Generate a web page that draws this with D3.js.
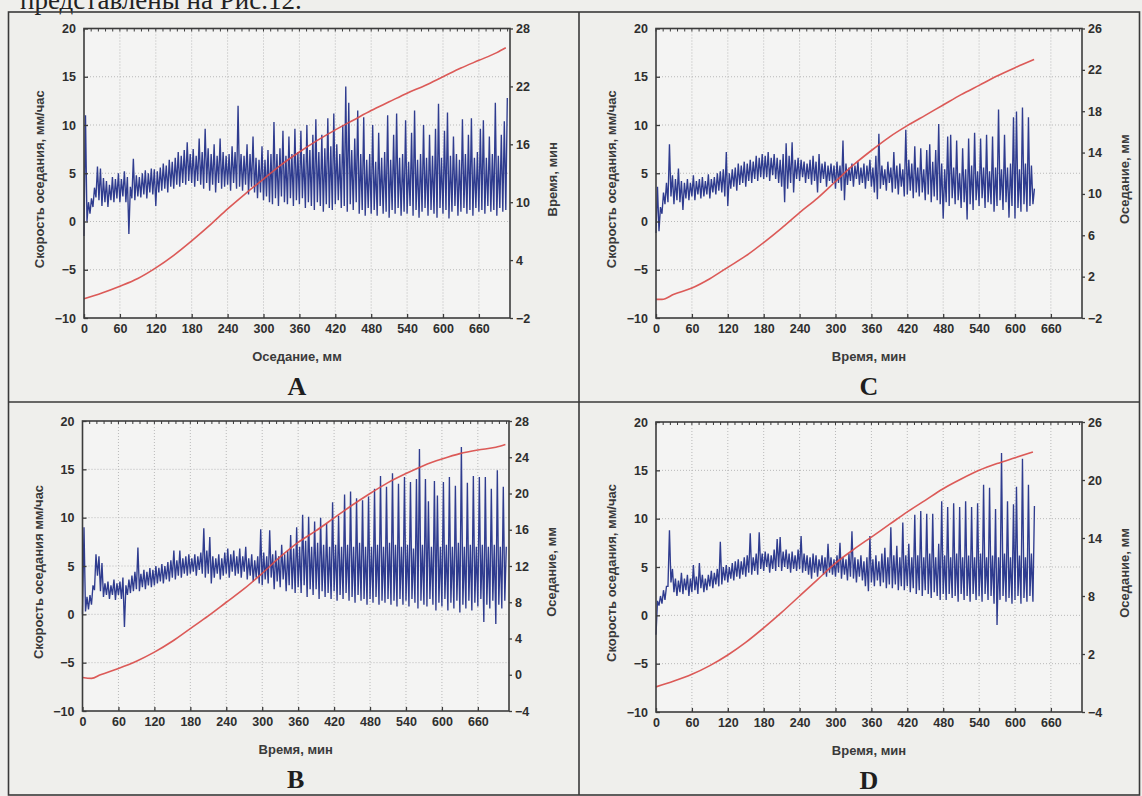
<!DOCTYPE html>
<html><head><meta charset="utf-8">
<script src="https://cdn.jsdelivr.net/npm/d3@7"></script>
<style>
html,body{margin:0;padding:0;background:#efefec;}
svg{display:block;}
</style></head><body>
<svg id="fig" width="1142" height="796"></svg>
<script>
// ---------- data ----------
const STEP_MIN = 5; // width of one reading bin of the rate series, minutes
const xDomain = [0, 712];
const xTickValues = [0, 60, 120, 180, 240, 300, 360, 420, 480, 540, 600, 660];
const leftTickValues = [-10, -5, 0, 5, 10, 15, 20];
const rightTicksA = [-2, 4, 10, 16, 22, 28];
const rightTicksC = [-2, 2, 6, 10, 14, 18, 22, 26];
const rightTicksB = [-4, 0, 4, 8, 12, 16, 20, 24, 28];
const rightTicksD = [-4, 2, 8, 14, 20, 26];

// settling rate, mm/h (blue): [low, high] of the trace inside each 5-minute bin
const rateA = [
  [-1.5,11],[0,2],[0.8,2.4],[1.5,3.5],[2.5,5.7],[2.2,5.5],[1.6,4.5],[2.0,4.2],[1.5,3.8],[2.2,4.6],[2.0,4.4],[2.4,5.0],
  [2.0,4.4],[2.6,5.2],[2.0,4.6],[-1.3,3.6],[2.4,6.5],[2.2,4.8],[2.6,4.6],[2.5,5.0],[2.8,5.3],[2.4,5.0],[3.0,5.5],[2.8,5.4],
  [1.6,5.2],[3.0,5.6],[3.2,6.0],[3.4,5.8],[3.0,6.4],[3.6,6.2],[3.4,6.6],[3.8,7.2],[3.6,6.8],[4.0,7.4],[3.8,8.2],[4.2,7.0],
  [4.0,7.5],[3.6,6.8],[4.2,8.6],[3.8,7.2],[3.4,9.6],[4.0,7.6],[3.2,7.0],[3.8,8.0],[3.0,6.8],[4.0,8.6],[3.4,7.2],[3.6,6.8],
  [3.8,7.0],[3.2,7.8],[4.0,7.2],[3.4,12.0],[3.6,7.0],[3.2,6.8],[3.8,8.0],[2.8,7.0],[3.6,8.8],[3.0,6.6],[2.4,6.4],[3.0,7.8],
  [2.2,6.4],[2.6,7.4],[2.0,7.0],[1.8,10.3],[2.4,7.0],[1.6,7.6],[2.6,9.4],[2.0,6.8],[1.8,8.8],[2.4,7.0],[1.6,9.6],[2.2,7.2],
  [1.8,9.4],[2.4,7.0],[1.4,10.0],[2.0,7.4],[1.6,9.0],[1.2,10.6],[2.0,7.2],[1.6,9.0],[1.0,7.6],[1.8,10.7],[1.4,7.8],[1.2,11.2],
  [1.8,8.0],[2.2,7.0],[1.4,10.0],[1.6,14.0],[1.0,12.3],[1.8,7.4],[1.2,8.6],[2.0,11.5],
  [0.8,7.0],[1.2,10.8],[0.6,6.4],[1.4,7.0],[0.8,10.0],[1.2,6.2],[0.6,9.2],[1.6,6.6],[0.8,7.2],[1.0,11.0],[0.4,6.4],[1.2,9.0],
  [0.8,11.2],[1.4,6.6],[0.6,7.0],[1.0,10.5],[0.8,6.2],[1.6,9.2],[0.6,11.5],[1.2,6.4],[0.4,7.0],[1.0,10.0],[1.4,6.6],[0.6,9.0],
  [1.2,6.8],[0.8,9.6],[0.4,12.2],[1.4,6.6],[0.8,9.4],[1.2,11.3],[0.3,6.8],[1.0,8.8],[1.6,7.0],[0.6,6.4],[1.0,10.6],[1.4,7.0],
  [0.8,9.0],[1.2,10.7],[0.6,6.6],[1.4,7.2],[1.0,9.6],[1.2,10.5],[0.8,6.6],[1.6,8.8],[1.0,7.0],[1.2,12.3],[0.6,6.8],[1.4,9.0],[1.0,10.4],[1.2,12.8]
];
const rateC = [
  [-1.2,3.6],[-1.0,1.5],[0.8,3.0],[1.8,4.0],[2.0,8.0],[2.6,4.8],[1.8,4.4],[2.2,5.5],[2.0,4.2],[1.2,4.0],[2.4,4.4],[2.2,4.0],
  [2.6,4.8],[2.2,4.2],[2.8,4.4],[2.4,4.6],[2.6,4.2],[2.8,4.9],[2.4,4.4],[3.0,4.6],[2.8,5.0],[3.2,5.2],[3.0,5.4],[2.6,7.2],
  [1.6,5.0],[3.4,5.4],[3.6,5.6],[3.2,6.0],[3.8,5.8],[4.0,6.2],[3.6,6.0],[4.2,6.4],[4.0,6.2],[4.4,6.8],[4.2,6.6],[4.6,7.0],
  [4.4,6.8],[4.6,7.2],[4.2,6.6],[4.8,7.0],[4.4,6.6],[4.0,6.4],[3.6,7.0],[2.0,8.1],[3.4,6.8],[4.0,8.2],[3.0,6.4],[4.4,6.6],
  [4.2,6.4],[4.6,6.2],[4.0,6.0],[4.4,6.4],[3.8,6.8],[4.2,6.2],[3.0,7.0],[4.0,6.0],[4.4,6.2],[3.6,5.8],[4.2,6.0],[4.0,5.8],
  [3.4,6.2],[4.0,5.8],[3.2,8.4],[2.2,6.0],[3.8,5.6],[4.2,6.0],[3.6,5.8],[4.4,6.2],[3.8,5.6],[4.0,6.0],[3.4,5.8],[4.2,6.4],
  [3.6,5.6],[3.0,6.8],[2.3,9.1],[3.4,5.8],[3.8,5.4],[3.2,6.2],[4.0,5.6],[3.0,7.2],[3.4,5.8],[2.8,6.0],[3.6,5.4],[2.6,9.5],
  [2.8,6.4],[3.2,6.0],[2.4,7.8],[3.0,5.6],[2.6,7.6],[3.0,5.4],[2.2,7.4],[2.8,8.0],[2.0,6.2],[2.6,7.4],[2.2,10.1],[1.8,6.0],
  [0.3,5.4],[2.0,8.8],[1.6,9.0],[2.4,5.6],[1.8,8.4],[2.2,5.0],[1.4,7.6],[2.0,5.4],[0.2,8.6],[1.8,5.8],[1.2,9.2],[2.2,5.2],
  [1.6,8.6],[2.4,5.6],[1.4,9.0],[2.0,5.2],[1.8,8.8],[1.0,5.6],[1.6,11.6],[2.2,5.4],[1.2,9.0],[2.0,5.6],[0.4,6.0],[1.6,10.8],
  [0.3,11.4],[1.4,5.4],[1.0,11.8],[1.8,6.0],[1.0,10.8],[1.6,5.8],[1.8,3.4]
];
const rateB = [
  [0,9.0],[0.3,1.8],[0.5,2.0],[1.0,3.0],[2.5,6.2],[4.0,6.0],[2.4,5.3],[1.8,3.2],[2.0,3.4],[1.6,3.0],[2.0,3.6],[1.5,3.2],
  [2.0,3.4],[1.6,3.8],[-1.3,3.0],[2.0,3.6],[2.2,4.0],[2.4,4.4],[2.6,6.9],[2.4,4.2],[2.8,4.6],[2.6,4.4],[3.0,4.8],[2.8,4.6],
  [3.0,5.0],[3.2,4.8],[3.4,5.2],[3.2,5.0],[3.6,5.4],[3.4,5.6],[3.8,6.6],[3.6,5.6],[4.0,6.6],[3.8,5.8],[4.2,6.0],[4.0,6.2],
  [4.2,5.8],[4.4,6.2],[4.0,6.0],[4.6,6.4],[4.2,8.9],[3.8,6.6],[4.2,8.0],[3.2,6.0],[3.8,5.8],[4.2,6.2],[3.6,5.8],[4.0,6.4],
  [4.2,6.8],[3.8,6.2],[4.4,6.6],[4.0,6.0],[4.2,6.8],[3.8,6.0],[4.4,7.0],[3.6,5.8],[4.0,6.2],[3.4,5.6],[3.8,6.0],[3.2,8.8],
  [3.0,6.4],[3.6,6.0],[3.2,8.7],[3.8,6.2],[2.6,6.6],[3.4,6.0],[2.8,7.2],[3.6,6.2],[2.4,6.6],[3.0,8.2],[2.6,6.8],[2.2,9.0],
  [2.8,7.0],[2.2,10.3],[3.0,7.6],[1.8,10.1],[2.6,7.0],[2.0,9.6],[2.6,7.4],[1.6,10.0],[2.4,7.2],[1.8,9.4],[2.2,7.0],[1.6,11.6],
  [2.4,7.2],[1.4,10.2],[2.0,7.0],[1.6,12.4],[2.2,7.2],[1.4,12.7],[1.8,7.0],[1.2,12.0],[2.0,7.4],[1.4,11.8],[1.6,7.0],[1.0,12.2],
  [1.6,7.0],[1.2,13.0],[1.8,7.2],[1.0,14.3],[1.4,7.0],[1.2,13.2],[1.6,7.4],[1.0,14.6],[1.4,7.2],[0.8,13.5],[1.6,7.0],[1.0,14.2],
  [1.4,7.2],[0.8,13.7],[1.6,6.8],[1.2,14.0],[0.6,17.1],[1.4,7.2],[1.0,14.0],[0.8,11.7],[1.6,7.0],[1.0,13.8],[0.4,12.3],[1.2,7.0],
  [0.8,13.7],[1.6,7.2],[0.4,14.2],[1.2,7.0],[0.6,13.3],[1.4,7.4],[0.2,17.3],[1.0,7.0],[0.6,13.6],[1.4,7.2],[0.4,14.3],[1.2,7.0],
  [0.8,14.2],[1.6,7.2],[-0.8,14.2],[1.0,7.0],[0.6,13.0],[1.4,7.2],[-1.0,14.9],[1.0,7.0],[0.6,13.2],[1.4,7.0]
];
const rateD = [
  [-2.0,1.5],[1.0,2.0],[1.2,2.6],[1.6,3.0],[3.0,8.8],[3.4,4.8],[2.4,3.8],[2.0,3.6],[2.4,4.4],[2.2,3.8],[2.6,4.2],[2.0,3.8],
  [2.4,5.2],[2.6,4.0],[2.2,5.4],[2.8,4.2],[2.4,3.8],[2.6,4.2],[3.0,4.6],[2.8,4.4],[3.2,4.8],[3.0,7.6],[3.2,5.0],[3.6,5.2],
  [3.4,5.0],[3.8,5.4],[3.6,5.6],[4.0,5.8],[3.8,5.6],[4.2,6.0],[4.0,6.2],[4.4,8.5],[4.2,6.0],[4.6,6.4],[4.2,8.6],[4.8,6.4],
  [4.6,6.6],[5.0,6.4],[4.4,6.2],[4.8,6.8],[4.6,7.9],[5.0,8.1],[4.6,6.6],[5.0,6.8],[4.8,6.4],[4.4,6.6],[4.8,6.2],[4.6,6.8],
  [4.8,8.2],[4.4,6.4],[4.6,6.2],[4.2,6.0],[3.8,6.4],[4.4,6.2],[4.0,5.8],[4.6,6.2],[4.2,6.0],[4.0,7.4],[4.4,6.0],[4.2,5.8],
  [4.0,6.2],[4.4,7.5],[3.8,6.0],[4.2,5.8],[3.6,6.4],[4.0,8.7],[3.8,6.0],[3.4,5.8],[4.0,6.2],[3.6,5.6],[3.0,6.0],[2.5,8.2],
  [3.4,5.8],[3.0,6.2],[3.6,5.6],[3.0,6.4],[3.4,7.0],[2.8,6.0],[3.2,9.1],[2.8,6.2],[3.2,7.2],[2.6,6.0],[3.0,9.6],[2.6,6.2],
  [3.0,7.4],[2.4,6.0],[2.8,10.4],[2.2,6.2],[2.6,10.8],[2.0,6.0],[2.6,10.5],[2.2,6.4],[1.8,10.5],[2.4,6.0],[2.0,7.4],[1.6,11.8],
  [2.2,6.2],[1.6,11.2],[2.2,6.0],[1.8,11.6],[2.0,6.4],[1.4,11.2],[2.2,6.0],[1.6,11.8],[2.0,6.2],[1.4,11.2],[2.2,6.0],[1.6,11.6],
  [2.0,6.4],[1.4,13.5],[2.2,6.0],[1.6,13.2],[2.0,6.2],[1.2,11.0],[-1.0,6.0],[1.6,16.8],[2.0,6.4],[1.4,11.8],[1.8,6.0],[1.2,11.5],
  [1.6,13.3],[2.0,6.2],[1.2,16.2],[1.8,6.0],[1.4,13.5],[2.0,6.4],[1.4,11.3]
];

// cumulative curve (red), right axis: time points and values
const curveTimeA = [0, 30, 60, 90, 120, 150, 180, 210, 240, 270, 300, 330, 360, 390, 420, 450, 480, 510, 540, 570, 600, 630, 660, 690, 705];
const curveA     = [0, 0.6, 1.3, 2.1, 3.2, 4.5, 6.0, 7.6, 9.3, 10.9, 12.4, 13.9, 15.2, 16.4, 17.5, 18.5, 19.5, 20.4, 21.3, 22.1, 23.0, 23.9, 24.7, 25.5, 26.0];
const curveTimeC = [0, 10, 30, 60, 90, 120, 150, 180, 210, 240, 270, 300, 330, 360, 390, 420, 450, 480, 510, 540, 570, 600, 632];
const curveC     = [-0.2, -0.2, 0.3, 0.9, 1.8, 2.9, 4.0, 5.3, 6.7, 8.2, 9.6, 11.2, 12.8, 14.2, 15.5, 16.6, 17.6, 18.6, 19.6, 20.5, 21.4, 22.2, 23.0];
const curveTimeB = [0, 15, 30, 60, 90, 120, 150, 180, 210, 240, 270, 300, 330, 360, 390, 420, 450, 480, 510, 540, 570, 600, 630, 660, 690, 706];
const curveB     = [-0.3, -0.4, 0.0, 0.7, 1.5, 2.5, 3.7, 5.1, 6.5, 8.0, 9.5, 11.2, 13.0, 14.6, 15.9, 17.3, 18.7, 20.0, 21.2, 22.2, 23.1, 23.8, 24.4, 24.8, 25.1, 25.4];
const curveTimeD = [0, 30, 60, 90, 120, 150, 180, 210, 240, 270, 300, 330, 360, 390, 420, 450, 480, 510, 540, 570, 600, 630];
const curveD     = [-1.4, -0.8, -0.1, 0.8, 1.9, 3.2, 4.7, 6.3, 8.0, 9.7, 11.4, 12.8, 14.1, 15.4, 16.7, 17.9, 19.1, 20.1, 21.0, 21.7, 22.3, 22.9];

// ---------- panels ----------
const panels = [
  {letter: 'A', rate: rateA, ct: curveTimeA, cv: curveA, rDomain: [-2, 28], rTicks: rightTicksA,
   yTitle: 'Скорость оседания, мм/час', xTitle: 'Оседание, мм', rTitle: 'Время, мин',
   L: 84, R: 510, T: 28.5, B: 318},
  {letter: 'C', rate: rateC, ct: curveTimeC, cv: curveC, rDomain: [-2, 26], rTicks: rightTicksC,
   yTitle: 'Скорость оседания, мм/час', xTitle: 'Время, мин', rTitle: 'Оседание, мм',
   L: 656, R: 1082, T: 28.5, B: 318},
  {letter: 'B', rate: rateB, ct: curveTimeB, cv: curveB, rDomain: [-4, 28], rTicks: rightTicksB,
   yTitle: 'Скорость оседания мм/час', xTitle: 'Время, мин', rTitle: 'Оседание, мм',
   L: 82.5, R: 509, T: 421, B: 711},
  {letter: 'D', rate: rateD, ct: curveTimeD, cv: curveD, rDomain: [-4, 26], rTicks: rightTicksD,
   yTitle: 'Скорость оседания, мм/час', xTitle: 'Время, мин', rTitle: 'Оседание, мм',
   L: 656, R: 1082, T: 422, B: 712}
];

const svg = d3.select('#fig');
svg.append('rect').attr('width', 1142).attr('height', 796).attr('fill', '#efefec');

// header line of the page (cut by the top edge, as in the scan)
svg.append('text').attr('x', 20).attr('y', 9)
  .attr('font-family', 'Liberation Serif, DejaVu Serif, serif').attr('font-size', 27)
  .attr('fill', '#222').text('представлены на Рис.12.');

// table borders
const border = svg.append('g').attr('stroke', '#3a3a3a').attr('stroke-width', 1.6).attr('fill', 'none');
border.append('rect').attr('x', 8.5).attr('y', 12).attr('width', 1131).attr('height', 783);
border.append('line').attr('x1', 579).attr('x2', 579).attr('y1', 12).attr('y2', 795);
border.append('line').attr('x1', 8.5).attr('x2', 1139.5).attr('y1', 402).attr('y2', 402);

const tickFont = 'Liberation Sans, Arial, sans-serif';

panels.forEach(p => {
  const g = svg.append('g');
  const x = d3.scaleLinear().domain(xDomain).range([p.L, p.R]);
  const yL = d3.scaleLinear().domain([-10, 20]).range([p.B, p.T]);
  const yR = d3.scaleLinear().domain(p.rDomain).range([p.B, p.T]);

  g.append('rect').attr('x', p.L).attr('y', p.T).attr('width', p.R - p.L).attr('height', p.B - p.T)
    .attr('fill', '#f4f4f3');

  // grid
  const grid = g.append('g').attr('stroke', '#b9b9b9').attr('stroke-width', 1).attr('stroke-dasharray', '1,2');
  grid.selectAll('.vg').data(xTickValues.filter(v => v > 0)).join('line')
    .attr('x1', d => x(d)).attr('x2', d => x(d)).attr('y1', p.T).attr('y2', p.B);
  grid.selectAll('.hg').data(leftTickValues.filter(v => v > -10 && v < 20)).join('line')
    .attr('y1', d => yL(d)).attr('y2', d => yL(d)).attr('x1', p.L).attr('x2', p.R);

  // rate trace: low then high of every bin
  const pts = [];
  p.rate.forEach((d, i) => {
    pts.push([i * STEP_MIN, d[0]]);
    pts.push([i * STEP_MIN + STEP_MIN / 2, d[1]]);
  });
  const rateLine = d3.line().x(d => x(d[0])).y(d => yL(d[1]));
  g.append('path').datum(pts).attr('d', rateLine)
    .attr('fill', 'none').attr('stroke', '#2f3c8f').attr('stroke-width', 1.35).attr('stroke-linejoin', 'miter');

  // cumulative curve
  const cLine = d3.line().curve(d3.curveMonotoneX).x((d, i) => x(p.ct[i])).y(d => yR(d));
  g.append('path').datum(p.cv).attr('d', cLine)
    .attr('fill', 'none').attr('stroke', '#d94c4a').attr('stroke-width', 1.6).attr('opacity', 0.92);

  // frame
  g.append('rect').attr('x', p.L).attr('y', p.T).attr('width', p.R - p.L).attr('height', p.B - p.T)
    .attr('fill', 'none').attr('stroke', '#3c3c3c').attr('stroke-width', 1.6);

  // top minor ticks
  g.append('g').selectAll('line').data(d3.range(0, xDomain[1], 12)).join('line')
    .attr('x1', d => x(d)).attr('x2', d => x(d)).attr('y1', p.T).attr('y2', p.T + 3)
    .attr('stroke', '#3c3c3c').attr('stroke-width', 1);

  const styleAxis = sel => {
    sel.select('.domain').remove();
    sel.selectAll('line').attr('stroke', '#3c3c3c').attr('stroke-width', 1.3);
    sel.selectAll('text').attr('font-family', tickFont).attr('font-size', 12.5)
      .attr('font-weight', 'bold').attr('fill', '#2e2e2e');
  };

  g.append('g').attr('transform', `translate(0,${p.B})`)
    .call(d3.axisBottom(x).tickValues(xTickValues).tickSize(-4).tickPadding(6).tickFormat(d3.format('d')))
    .call(styleAxis);
  g.append('g').attr('transform', `translate(${p.L},0)`)
    .call(d3.axisLeft(yL).tickValues(leftTickValues).tickSize(-4).tickPadding(8).tickFormat(d3.format('d')))
    .call(styleAxis);
  g.append('g').attr('transform', `translate(${p.R},0)`)
    .call(d3.axisRight(yR).tickValues(p.rTicks).tickSize(3).tickPadding(3).tickFormat(d3.format('d')))
    .call(styleAxis);

  const cx = (p.L + p.R) / 2, cy = (p.T + p.B) / 2 + 6;
  const titleStyle = t => t.attr('font-family', tickFont).attr('font-size', 13)
    .attr('font-weight', 'bold').attr('fill', '#3a3a3a').attr('text-anchor', 'middle');

  g.append('text').attr('x', cx).attr('y', p.B + 43).text(p.xTitle).call(titleStyle);
  g.append('text').attr('transform', `translate(${p.L - 40},${cy}) rotate(-90)`).text(p.yTitle).call(titleStyle);
  g.append('text').attr('transform', `translate(${p.R + 47},${cy}) rotate(-90)`).text(p.rTitle).call(titleStyle);

  g.append('text').attr('x', cx).attr('y', p.B + 77).text(p.letter)
    .attr('font-family', 'Liberation Serif, DejaVu Serif, serif').attr('font-weight', 'bold')
    .attr('font-size', 26).attr('fill', '#1e1e1e').attr('text-anchor', 'middle');
});
</script>
</body></html>
